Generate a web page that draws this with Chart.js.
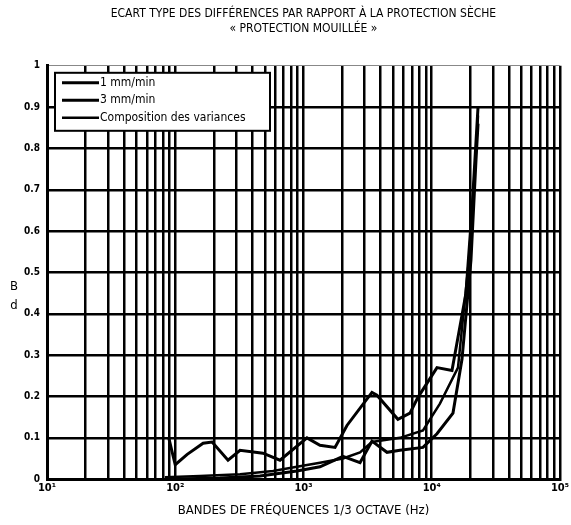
<!DOCTYPE html>
<html>
<head>
<meta charset="utf-8">
<script src="https://cdn.jsdelivr.net/npm/chart.js@4"></script>
<style>
  html, body { margin: 0; padding: 0; background: #fff; }
</style>
</head>
<body>
<canvas id="myChart" width="571" height="525"></canvas>
<script>
// values (Hz, dB)
var freq1 = [89, 100, 124, 165, 194, 258, 320, 483, 656, 1065, 1345, 1762, 2184, 3420, 3740, 5450, 6770, 7810, 10990, 14390, 18500, 20600, 22970];
var val1 = [0.10, 0.035, 0.06, 0.087, 0.09, 0.046, 0.07, 0.063, 0.046, 0.10, 0.082, 0.077, 0.13, 0.21, 0.203, 0.145, 0.16, 0.198, 0.27, 0.263, 0.45, 0.65, 0.90];

var freq3 = [83, 223, 458, 889, 1345, 2030, 2760, 3420, 4480, 5650, 8550, 10990, 14650, 17220, 20230, 22130, 22970];
var val3 = [0.0, 0.003, 0.008, 0.02, 0.03, 0.055, 0.04, 0.092, 0.065, 0.07, 0.077, 0.11, 0.16, 0.29, 0.53, 0.77, 0.86];

var freqComp = [83, 156, 320, 578, 889, 1345, 2030, 2760, 3420, 4320, 5650, 8550, 11590, 16030, 19500, 21740, 22970];
var valComp = [0.005, 0.008, 0.012, 0.02, 0.03, 0.04, 0.05, 0.065, 0.09, 0.095, 0.1, 0.118, 0.183, 0.27, 0.53, 0.75, 0.88];

var seriesNames = ['1 mm/min', '3 mm/min', 'Composition des variances'];
var decades = [10, 100, 1000, 10000, 100000];
var decadeLabels = ['10¹', '10²', '10³', '10⁴', '10⁵'];
var minorSteps = [2, 3, 4, 5, 6, 7, 8, 9];
var yUnit = ['B', 'd'];
var titleLines = ['ECART TYPE DES DIFFÉRENCES PAR RAPPORT À LA PROTECTION SÈCHE', '« PROTECTION MOUILLÉE »'];
var xTitle = 'BANDES DE FRÉQUENCES 1/3 OCTAVE (Hz)';

var FONT = '"Liberation Sans Narrow", "DejaVu Sans Condensed", "Roboto", sans-serif';

function pts(f, v) {
    return f.map(function (x, i) { return { x: x, y: v[i] }; });
}

// log grid: every 1..9 of each decade
var gridFreqs = [];
decades.forEach(function (d, i) {
    gridFreqs.push(d);
    if (i < decades.length - 1) {
        minorSteps.forEach(function (s) { gridFreqs.push(s * d); });
    }
});

var unitLabel = {
    id: 'unitLabel',
    afterDraw: function (chart) {
        var c = chart.ctx;
        c.save();
        c.fillStyle = '#000';
        c.font = '13px ' + FONT;
        c.textAlign = 'center';
        c.textBaseline = 'middle';
        c.fillText(yUnit[0], 14, 287);
        c.fillText(yUnit[1], 14, 306);
        c.restore();
    }
};

var boxLegend = {
    id: 'boxLegend',
    afterDraw: function (chart) {
        var c = chart.ctx;
        var a = chart.chartArea;
        var x = a.left + 8, y = a.top + 7, w = 215, h = 58;
        c.save();
        c.fillStyle = '#fff';
        c.fillRect(x, y, w, h);
        c.strokeStyle = '#000';
        c.lineWidth = 2;
        c.strokeRect(x, y, w, h);
        c.font = '12px ' + FONT;
        c.fillStyle = '#000';
        c.textBaseline = 'middle';
        chart.data.datasets.forEach(function (ds, i) {
            var ly = y + 10 + i * 17.5;
            c.lineWidth = ds.borderWidth;
            c.beginPath();
            c.moveTo(x + 7, ly);
            c.lineTo(x + 44, ly);
            c.stroke();
            c.fillText(ds.label, x + 45, ly);
        });
        c.restore();
    }
};

var ctx = document.getElementById('myChart').getContext('2d');
var chart = new Chart(ctx, {
    type: 'line',
    data: {
        datasets: [
            { label: seriesNames[0], data: pts(freq1, val1), borderColor: '#000', borderWidth: 3 },
            { label: seriesNames[1], data: pts(freq3, val3), borderColor: '#000', borderWidth: 3 },
            { label: seriesNames[2], data: pts(freqComp, valComp), borderColor: '#000', borderWidth: 2.5 }
        ]
    },
    options: {
        responsive: false,
        animation: false,
        layout: {
            padding: { left: 0, right: 11, top: 0, bottom: 7 }
        },
        elements: {
            line: { tension: 0, fill: false },
            point: { radius: 0 }
        },
        plugins: {
            legend: { display: false },
            tooltip: { enabled: false },
            title: {
                display: true,
                text: titleLines,
                fullSize: false,
                color: '#000',
                font: { family: FONT, size: 12, weight: 'normal', lineHeight: 1.2 },
                padding: { top: 7, bottom: 30 }
            }
        },
        scales: {
            x: {
                type: 'logarithmic',
                min: 10,
                max: 100000,
                afterBuildTicks: function (scale) {
                    scale.ticks = gridFreqs.map(function (v) { return { value: v }; });
                },
                ticks: {
                    autoSkip: false,
                    maxRotation: 0,
                    color: '#000',
                    padding: 2,
                    font: { family: FONT, size: 11, weight: 'bold' },
                    callback: function (value) {
                        var i = decades.indexOf(value);
                        return i >= 0 ? decadeLabels[i] : '';
                    }
                },
                grid: { color: '#000', lineWidth: 2.5, drawTicks: false },
                border: { color: '#000', width: 3 },
                title: {
                    display: true,
                    text: xTitle,
                    color: '#000',
                    font: { family: FONT, size: 13, weight: 'normal' },
                    padding: { top: 6, bottom: 0 }
                }
            },
            y: {
                min: 0,
                max: 1,
                afterFit: function (scale) { scale.width = 47; },
                ticks: {
                    stepSize: 0.1,
                    color: '#000',
                    padding: 7,
                    font: { family: FONT, size: 10, weight: 'bold' },
                    callback: function (value) {
                        if (value === 0) return '0';
                        if (Math.abs(value - 1) < 1e-9) return '1';
                        return value.toFixed(1);
                    }
                },
                grid: {
                    drawTicks: false,
                    color: function (c) { return c.tick && Math.abs(c.tick.value - 1) < 1e-9 ? '#888' : '#000'; },
                    lineWidth: function (c) { return c.tick && Math.abs(c.tick.value - 1) < 1e-9 ? 1 : 2.5; }
                },
                border: { color: '#000', width: 3 }
            }
        }
    },
    plugins: [unitLabel, boxLegend]
});
</script>
</body>
</html>
